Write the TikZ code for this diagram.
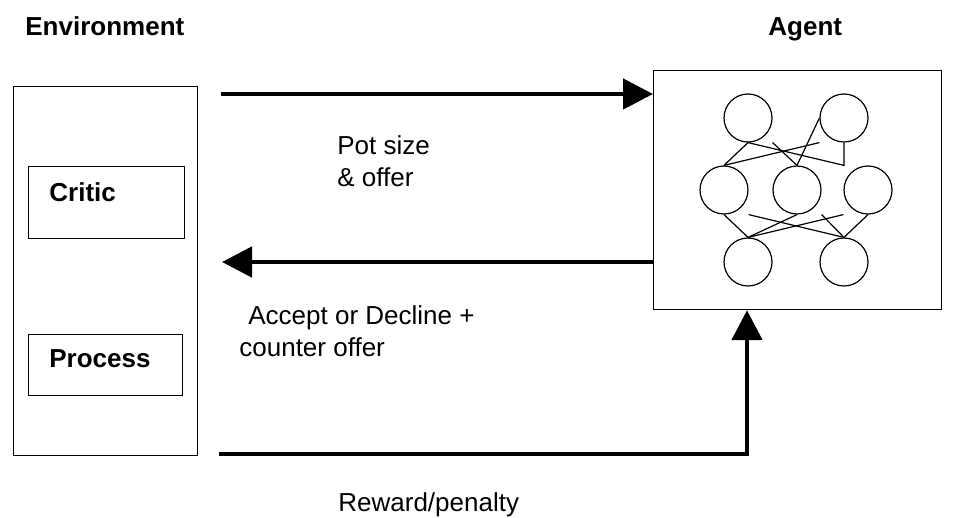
\documentclass[tikz,border=0pt]{standalone}
\usepackage{fontspec}
\setmainfont{Liberation Sans}
\usetikzlibrary{arrows.meta}

\tikzset{
  box/.style={draw,line width=0.6pt,anchor=north west,inner sep=0pt},
  neuron/.style={draw,circle,line width=0.6pt,minimum size=24pt,inner sep=0pt},
  link/.style={line width=0.6pt},
  flow/.style={line width=2.4pt,-{Triangle[length=15pt,width=15pt]}},
  lbl/.style={inner sep=0pt,align=left,font=\fontsize{13}{16}\selectfont},
  title/.style={inner sep=0pt,font=\fontsize{13}{14}\selectfont\bfseries}
}

\begin{document}
\begin{tikzpicture}[x=0.5pt,y=-0.5pt]

      \useasboundingbox (0,0) rectangle (960,518);

      \node[title,anchor=base west] (envtitle) at (25,36) {Environment};
      \node[title,anchor=base west] (agenttitle) at (768,36) {Agent};

      \node[box,minimum width=92pt,minimum height=184.5pt] (env) at (13,86) {}; % environment
      \node[box,minimum width=78pt,minimum height=36pt] (critic) at (28,166) {};
      \node[box,minimum width=77pt,minimum height=30.5pt] (process) at (28,334) {};
      \node[title,anchor=base west] (criticlbl) at (49,202) {Critic};
      \node[title,anchor=base west] (processlbl) at (49,368) {Process};

      \node[box,minimum width=144pt,minimum height=119.5pt] (agent) at (653,70) {}; % agent

      \foreach \name/\x/\y in {t1/748/118, t2/844/118, m1/724/190, m2/797/190, m3/868/190, b1/748/262, b2/844/262}
      \node[neuron] (\name) at (\x,\y) {};

      \draw[link] (t1.south) -- (m1.north);
      \draw[link] (m1.north) -- (t2.west |- t2.south);
      \draw[link] (t1.south) -- (t2.south |- m2.north) -- (t2.south);
      \draw[link] (t1.east |- t1.south) -- (m2.north);
      \draw[link] (m2.north) -- (t2.west);

      \draw[link] (m1.south) -- (b1.north);
      \draw[link] (b1.north) -- (m2.south);
      \draw[link] (b1.north) -- (m3.west |- m3.south);
      \draw[link] (m1.east |- m1.south) -- (b2.north);
      \draw[link] (m2.east |- m2.south) -- (b2.north);
      \draw[link] (b2.north) -- (m3.south);

      \coordinate (potstart) at (221,94);
      \coordinate (acceptend) at (222,262);
      \coordinate (rewardstart) at (219,454);
      \coordinate (rewardcorner) at (747,454);

      \draw[flow] (potstart) -- (potstart -| agent.west); % pot size
      \draw[flow] (acceptend -| agent.west) -- (acceptend); % accept/decline
      \draw[flow] (rewardstart) -- (rewardcorner) -- (rewardcorner |- agent.south); % reward

      \node[lbl,anchor=north west] (potlbl) at (337,135) {Pot size\\\& offer};
      \node[lbl,anchor=north west] (acceptlbl) at (239,305) {\hspace*{4.5pt}Accept or Decline +\\counter offer};
      \node[lbl,anchor=north west] (rewardlbl) at (338,492) {Reward/penalty};

\end{tikzpicture}
\end{document}
